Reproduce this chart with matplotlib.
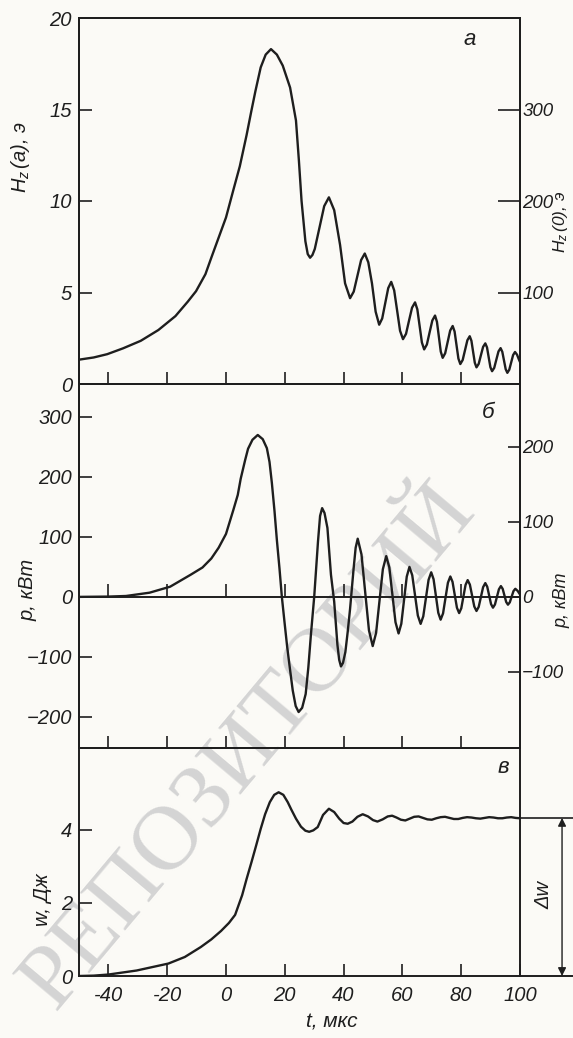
import matplotlib
matplotlib.use("Agg")
import matplotlib.pyplot as plt

plt.rcParams['font.family'] = ['Liberation Sans', 'DejaVu Sans']
plt.rcParams['font.style'] = 'italic'
plt.rcParams['mathtext.fontset'] = 'custom'
plt.rcParams['mathtext.it'] = 'Liberation Sans:italic'
plt.rcParams['mathtext.rm'] = 'Liberation Sans:italic'

# ---------------- data ----------------
x_ticks = [-40, -20, 0, 20, 40, 60, 80, 100]
hz_a_ticks = [0, 5, 10, 15, 20]
hz0_ticks = [100, 200, 300]
p_ticks = [-200, -100, 0, 100, 200, 300]
p_right_ticks = [-100, 0, 100, 200]
w_ticks = [0, 2, 4]

# panel a: H_z(a), Oe  vs t, us
hz_a_curve = [
    (-50, 1.33), (-45, 1.45), (-40.4, 1.63), (-35, 1.95), (-29, 2.36), (-23, 2.95),
    (-17.2, 3.71), (-13, 4.5), (-10.2, 5.07), (-7, 6.0), (-5, 6.9), (-2.5, 8.0),
    (0, 9.1), (2.5, 10.6), (4.7, 11.9), (7, 13.6), (8.6, 14.9), (10, 16.0),
    (11.8, 17.3), (13.5, 18.0), (15.3, 18.3), (17.3, 18.0), (19.3, 17.4),
    (21.8, 16.2), (23.8, 14.4), (24.8, 12.2), (25.7, 10.0), (27.0, 7.8),
    (27.8, 7.1), (28.6, 6.9), (29.4, 7.05), (30.2, 7.38), (31.8, 8.55),
    (33.4, 9.72), (35.0, 10.2), (36.8, 9.5), (38.8, 7.6), (40.5, 5.5),
    (42.2, 4.69), (43.45, 5.05), (44.7, 5.91), (45.95, 6.77), (47.2, 7.13),
    (48.4, 6.65), (49.65, 5.5), (50.9, 3.95), (52.1, 3.24), (53.13, 3.58),
    (54.15, 4.41), (55.18, 5.24), (56.2, 5.58), (57.2, 5.12), (58.2, 4.02),
    (59.2, 2.91), (60.2, 2.45), (61.23, 2.74), (62.25, 3.46), (63.28, 4.17),
    (64.3, 4.46), (65.08, 4.08), (65.85, 3.18), (66.63, 2.27), (67.4, 1.89),
    (68.33, 2.16), (69.25, 2.82), (70.18, 3.47), (71.1, 3.74), (71.75, 3.40),
    (72.4, 2.59), (73.05, 1.77), (73.7, 1.43), (74.55, 1.68), (75.4, 2.30),
    (76.25, 2.92), (77.1, 3.17), (77.75, 2.87), (78.4, 2.13), (79.05, 1.39),
    (79.7, 1.09), (80.5, 1.31), (81.3, 1.85), (82.1, 2.39), (82.9, 2.61),
    (83.48, 2.36), (84.05, 1.76), (84.63, 1.16), (85.2, 0.91), (85.95, 1.10),
    (86.7, 1.57), (87.45, 2.03), (88.2, 2.22), (88.78, 2.0), (89.35, 1.46),
    (89.93, 0.92), (90.5, 0.7), (91.23, 0.88), (91.95, 1.33), (92.68, 1.78),
    (93.4, 1.96), (93.98, 1.76), (94.55, 1.29), (95.13, 0.81), (95.7, 0.61),
    (96.35, 0.78), (97.0, 1.18), (97.65, 1.58), (98.3, 1.75), (99.0, 1.6),
    (99.6, 1.35), (100, 1.2),
]

# panel b: p, kW vs t, us
p_curve = [
    (-50, 0), (-40, 0.5), (-34, 1.5), (-26, 7), (-19, 17), (-12, 37), (-8, 49),
    (-5, 64), (-2.5, 82), (0, 105), (2.5, 145), (4, 170), (5, 197), (6.5, 228),
    (7.5, 247), (9, 262), (10.8, 270), (12.5, 263), (13.9, 248), (14.8, 225),
    (15.6, 190), (16.5, 143), (17.3, 95), (18.2, 47), (19.0, 0), (19.9, -42),
    (20.8, -83), (21.8, -122), (22.7, -156), (23.7, -182), (24.7, -192),
    (25.9, -185), (27.1, -162), (28.0, -118), (28.9, -62), (30.0, 0), (31.3, 93),
    (32.0, 135), (32.7, 148), (33.5, 140), (34.5, 115), (35.7, 37), (36.8, -8),
    (37.9, -80), (38.5, -105), (39.1, -116), (39.8, -110), (40.6, -92),
    (41.4, -58), (42.2, -20), (43.4, 47), (44.1, 82), (44.8, 97), (46.08, 70.9),
    (47.35, 7.5), (48.63, -55.9), (49.9, -82), (51.05, -60.1), (52.2, -7),
    (53.35, 46.1), (54.5, 68), (55.55, 49.2), (56.6, 3.5), (57.65, -42.2),
    (58.7, -61), (59.63, -44.8), (60.55, -5.5), (61.48, 33.8), (62.4, 50),
    (63.35, 36.1), (64.3, 2.5), (65.25, -31.1), (66.2, -45), (67.1, -32.4),
    (68.0, -2), (68.9, 28.4), (69.8, 41), (70.6, 29.5), (71.4, 1.5),
    (72.2, -26.5), (73.0, -38), (73.83, -27.5), (74.65, -2), (75.48, 23.5),
    (76.3, 34), (77.05, 25.1), (77.8, 3.5), (78.55, -18.1), (79.3, -27),
    (80.03, -19.0), (80.75, 0.5), (81.48, 20.0), (82.2, 28), (82.95, 20.5),
    (83.7, 2.25), (84.45, -16.0), (85.2, -23.5), (85.95, -16.7), (86.7, -0.25),
    (87.45, 16.2), (88.2, 23), (88.85, 17.0), (89.5, 2.5), (90.15, -12.0),
    (90.8, -18), (91.48, -12.7), (92.15, 0), (92.83, 12.7), (93.5, 18),
    (94.1, 13.5), (94.7, 2.5), (95.3, -8.5), (95.9, -13), (96.53, -9.1),
    (97.15, 0.25), (97.78, 9.6), (98.4, 13.5), (99.2, 10), (100, 4),
]

# panel c: w, J vs t, us
w_curve = [
    (-50, 0.0), (-45, 0.01), (-40, 0.04), (-30.4, 0.15), (-19.6, 0.34), (-14, 0.52),
    (-8.6, 0.79), (-5, 1.0), (-1.7, 1.23), (1, 1.45), (3.1, 1.67), (5.5, 2.21),
    (7, 2.65), (8.7, 3.12), (10.2, 3.55), (11.8, 4.02), (13.3, 4.42), (14.9, 4.75),
    (16.4, 4.95), (17.9, 5.02), (19.5, 4.95), (21, 4.75), (22.2, 4.55), (23.8, 4.3),
    (25.5, 4.08), (27, 3.97), (28.3, 3.94), (29.7, 3.98), (31.2, 4.07), (33.0, 4.4),
    (35.0, 4.57), (36.8, 4.48), (38.5, 4.3), (40.0, 4.18), (41.4, 4.16), (43, 4.22),
    (44.7, 4.35), (46.5, 4.42), (48.3, 4.36), (50, 4.26), (51.5, 4.22), (53.3, 4.28),
    (55, 4.36), (56.5, 4.38), (58, 4.33), (59.5, 4.27), (61, 4.25), (62.5, 4.3),
    (64, 4.35), (65.5, 4.36), (67, 4.32), (68.5, 4.28), (70, 4.27), (71.5, 4.31),
    (73, 4.34), (74.5, 4.35), (76, 4.32), (77.5, 4.29), (79, 4.29), (80.5, 4.32),
    (82, 4.34), (83.5, 4.33), (85, 4.31), (86.5, 4.30), (88, 4.32), (89.5, 4.34),
    (91, 4.33), (92.5, 4.31), (94, 4.31), (95.5, 4.33), (97, 4.34), (98.5, 4.32),
    (100, 4.31),
]
dw_level = 4.32

# ---------------- figure ----------------
ink = '#1e1e1e'
paper = '#fbfaf6'
fs = 14.5
fs_right = 13.5

fig = plt.figure(figsize=(5.73, 10.38), dpi=100, facecolor=paper)
W_PX, H_PX = 573.0, 1038.0

def box(left, top, right, bottom):
    return [left / W_PX, 1 - bottom / H_PX, (right - left) / W_PX, (bottom - top) / H_PX]

axA = fig.add_axes(box(79, 18, 520, 384))
axB = fig.add_axes(box(79, 384, 520, 748))
axC = fig.add_axes(box(79, 748, 520, 976))

for ax in (axA, axB, axC):
    ax.set_facecolor('none')
    ax.set_xlim(-50, 100)
    for s in ax.spines.values():
        s.set_color(ink)
        s.set_linewidth(1.4)
    ax.tick_params(axis='both', direction='in', colors=ink, width=1.2,
                   labelsize=fs, length=9, pad=5)
    ax.tick_params(axis='x', top=False)

axA.set_ylim(0, 20)
axB.set_ylim(-252, 355)
axC.set_ylim(0, 6.23)
axB.spines['top'].set_visible(False)
axC.spines['top'].set_visible(False)

axA.set_xticks(x_ticks[:-1])
axA.set_xticklabels([])
axB.set_xticks(x_ticks[:-1])
axB.set_xticklabels([])
axC.set_xticks(x_ticks)
axC.set_xticklabels([str(v) for v in x_ticks])
axC.tick_params(axis='x', pad=7)

axA.set_yticks(hz_a_ticks)
axB.set_yticks(p_ticks)
axC.set_yticks(w_ticks)

# right axes
axA2 = axA.twinx()
axA2.set_ylim(0, 400)
axA2.set_yticks(hz0_ticks)
axA2.tick_params(axis='y', direction='in', length=16, width=1.2, colors=ink,
                 labelsize=fs_right, pad=1.5)
axB2 = axB.twinx()
axB2.set_ylim(-252 * 0.8, 355 * 0.8)
axB2.set_yticks(p_right_ticks)
axB2.tick_params(axis='y', direction='in', length=9, width=1.2, colors=ink,
                 labelsize=fs_right, pad=1.5)
for ax in (axA2, axB2):
    ax.set_facecolor('none')
    for s in ax.spines.values():
        s.set_color(ink)
        s.set_linewidth(1.4)
axB2.spines['top'].set_visible(False)

# curves
for ax, data in ((axA, hz_a_curve), (axB, p_curve), (axC, w_curve)):
    t, v = zip(*data)
    ax.plot(t, v, color=ink, lw=1.7, solid_joinstyle='round', solid_capstyle='round')

# zero line with its ticks in panel b
axB.axhline(0, color=ink, lw=1.4)
axB.vlines(x_ticks[:-1], 0, 21, color=ink, lw=1.2)

# delta-w annotation in panel c
axC.plot([100, 126], [dw_level, dw_level], color=ink, lw=1.2, clip_on=False)
axC.plot([100, 126], [0, 0], color=ink, lw=1.4, clip_on=False)
axC.annotate('', xy=(114.3, 0), xytext=(114.3, dw_level), annotation_clip=False,
             arrowprops=dict(arrowstyle='<|-|>', color=ink, lw=1.0,
                             shrinkA=0, shrinkB=0, mutation_scale=12))
axC.text(108.0, 2.2, 'Δw', rotation=90, ha='center', va='center', fontsize=fs,
         color=ink, clip_on=False)

# panel letters
axA.text(83, 18.8, 'a', fontsize=16, color=ink, ha='center', va='center')
axB.text(89.1, 307, 'б', fontsize=16, color=ink, ha='center', va='center')
axC.text(94.2, 5.7, 'в', fontsize=16, color=ink, ha='center', va='center')

# axis labels
def ftext(x, y, s, size=fs, **kw):
    fig.text(x / W_PX, 1 - y / H_PX, s, color=ink, fontsize=size, ha='center',
             va='center', **kw)

ftext(20, 157, r'$H_z\,(a)$, э', rotation=90)
ftext(28, 590, 'p, кВт', rotation=90)
ftext(43, 900, 'w, Дж', rotation=90)
ftext(561, 222, r'$H_z\,(0)$, э', rotation=90, size=12.5)
ftext(562, 600, 'p, кВт', rotation=90, size=13)
ftext(332, 1022, 't, мкс', size=15)

# repository watermark
fig.text(56 / W_PX, 1 - 1012 / H_PX, 'РЕПОЗИТОРИЙ', rotation=50,
         rotation_mode='anchor', ha='left', va='baseline', fontsize=66,
         family='Liberation Serif', style='normal', color='#d4d4d4', zorder=-1)

fig.savefig('out.png', dpi=100, facecolor=paper)
